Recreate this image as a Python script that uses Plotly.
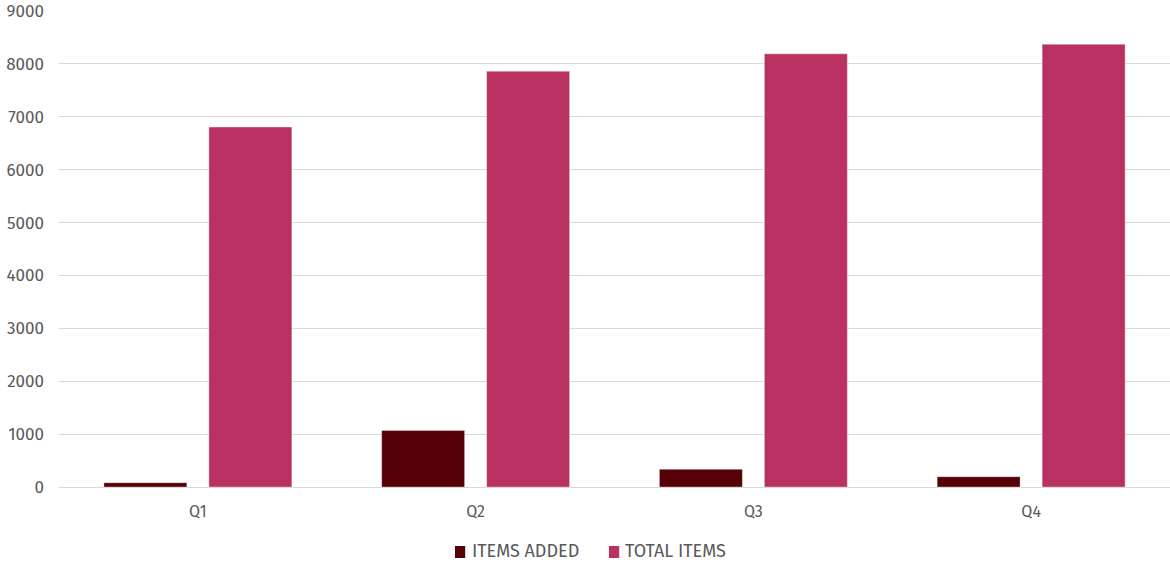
import plotly.graph_objects as go

quarters = ["Q1", "Q2", "Q3", "Q4"]
items_added = [80, 1070, 335, 195]
total_items = [6805, 7860, 8190, 8370]
y_ticks = [0, 1000, 2000, 3000, 4000, 5000, 6000, 7000, 8000, 9000]
series_names = ["ITEMS ADDED", "TOTAL ITEMS"]
series_colors = ["#560008", "#B83160"]

FONT = "Fira Sans, Open Sans, Lato, sans-serif"
TEXT = "#595959"

fig = go.Figure()
for name, color, vals in zip(series_names, series_colors, [items_added, total_items]):
    fig.add_trace(go.Bar(
        name=name, x=quarters, y=vals, showlegend=False,
        marker=dict(color=color, line=dict(color="rgba(255,255,255,0.35)", width=1)),
    ))

# compact legend below the plot: coloured square followed by the series name
legend_sq_x = [0.3564, 0.4950]
legend_txt_x = [0.3700, 0.5080]
for name, color, sx, tx in zip(series_names, series_colors, legend_sq_x, legend_txt_x):
    fig.add_shape(type="rect", xref="paper", yref="paper",
                  x0=sx, x1=sx + 0.0092, y0=-0.1492, y1=-0.1239,
                  fillcolor=color, line=dict(width=0))
    fig.add_annotation(
        xref="paper", yref="paper", x=tx, y=-0.1335, xanchor="left", yanchor="middle",
        showarrow=False, text=name,
        font=dict(family=FONT, size=18, color=TEXT),
    )

fig.update_layout(
    width=1170, height=563,
    margin=dict(l=59, r=0, t=11, b=76),
    paper_bgcolor="white", plot_bgcolor="white",
    barmode="group", bargap=0.244, bargroupgap=0.21,
    font=dict(family=FONT, color=TEXT, size=16),
    xaxis=dict(showgrid=False, showline=True, linecolor="#d9d9d9", linewidth=1,
               ticks="", ticklabelstandoff=10, tickfont=dict(size=16, color=TEXT)),
    yaxis=dict(range=[0, 9000], tickvals=y_ticks, showgrid=True, gridcolor="#d9d9d9",
               gridwidth=1, zeroline=False, ticks="", ticklabelstandoff=14,
               tickfont=dict(size=17, color=TEXT)),
)

fig.write_html("out.html")
